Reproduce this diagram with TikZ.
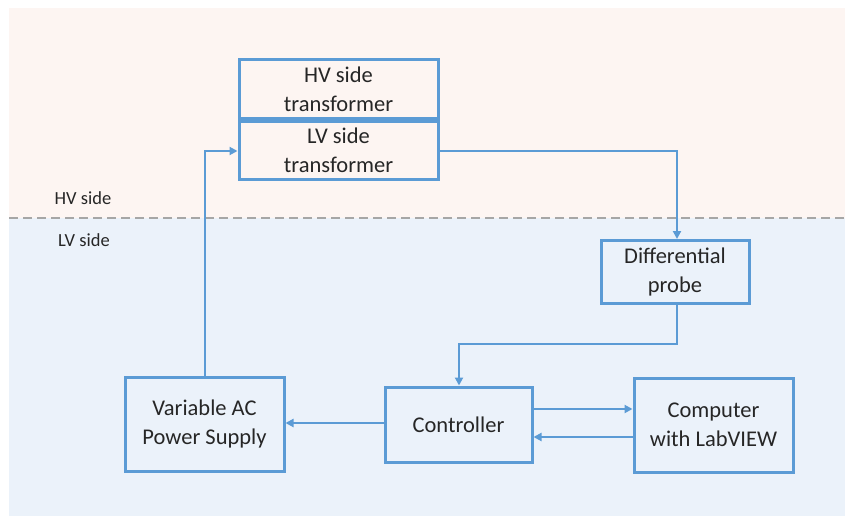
\documentclass[tikz,border=0pt]{standalone}
\usepackage{fontspec}
\setmainfont{Carlito}
\usetikzlibrary{arrows.meta}
\definecolor{boxblue}{HTML}{5B9BD5}
\definecolor{hvbg}{HTML}{FDF5F2}
\definecolor{lvbg}{HTML}{EBF2FA}
\definecolor{txt}{HTML}{262626}
\definecolor{sepgray}{HTML}{A6A6A6}
\tikzset{
  block/.style={draw=boxblue, line width=3pt, fill=none, inner sep=0pt,
    align=center, text=txt, font=\fontsize{22.5}{28.5}\selectfont},
  link/.style={draw=boxblue, line width=2.8pt,
    -{Triangle[length=8pt,width=8pt]}},
  zone/.style={text=txt, font=\fontsize{18.5}{22}\selectfont}
}
\begin{document}
\begin{tikzpicture}[x=1pt,y=-1pt]
  % canvas and the two voltage zones
  \useasboundingbox (0,0) rectangle (845,516);
  \fill[white] (0,0) rectangle (845,516);
  \fill[hvbg] (9,8) rectangle (845,218);
  \fill[lvbg] (9,218) rectangle (845,516);
  \draw[sepgray, line width=2.6pt, dash pattern=on 9pt off 5pt] (9,218) -- (845,218);
  \node[zone] (hvlabel) at (83,198) {HV side};
  \node[zone] (lvlabel) at (84,240) {LV side};

  % blocks
  \node[block, minimum width=199pt, minimum height=59pt] (hvt) at (338.5,89.5) {HV side\\transformer};
  \node[block, minimum width=199pt, minimum height=58pt] (lvt) at (338.5,150.5) {LV side\\transformer};
  \node[block, minimum width=148pt, minimum height=63pt] (probe) at (675,272) {Differential\\probe};
  \node[block, minimum width=147pt, minimum height=75pt] (ctrl) at (458.5,424.5) {Controller};
  \node[block, minimum width=159pt, minimum height=94pt] (vac) at (204.5,424) {Variable AC\\Power Supply};
  \node[block, minimum width=159pt, minimum height=94pt] (pc) at (713.5,425) {Computer\\with LabVIEW};

  % bends
  \coordinate (c1) at (677,151);
  \coordinate (c2) at (677,344);
  \coordinate (c3) at (459,344);
  \coordinate (c4) at (205,151);

  % connectors
  \draw[link] (lvt.east |- c1) -- (c1) -- (c1 |- probe.north);
  \draw[link] (c2 |- probe.south) -- (c2) -- (c3) -- (c3 |- ctrl.north);
  \draw[link] (ctrl.west |- 0,423) -- (vac.east |- 0,423);
  \draw[link] (ctrl.east |- 0,409) -- (pc.west |- 0,409);
  \draw[link] (pc.west |- 0,437) -- (ctrl.east |- 0,437);
  \draw[link] (c4 |- vac.north) -- (c4) -- (lvt.west |- c4);
\end{tikzpicture}
\end{document}
